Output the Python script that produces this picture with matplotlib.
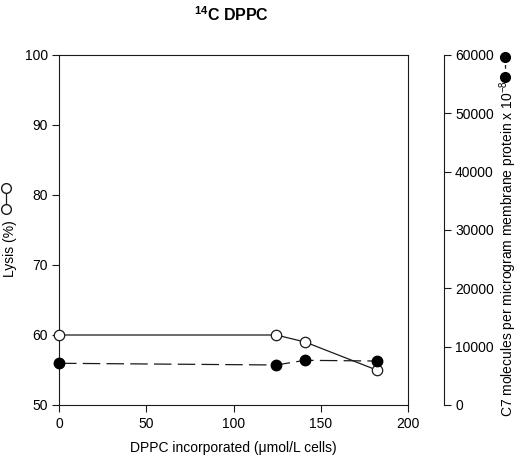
import matplotlib
matplotlib.use("Agg")
import matplotlib.pyplot as plt
from matplotlib.lines import Line2D

plt.rcParams['font.family'] = ['Liberation Sans', 'DejaVu Sans']
plt.rcParams['mathtext.fontset'] = 'custom'
plt.rcParams['mathtext.rm'] = 'Liberation Sans'
plt.rcParams['mathtext.it'] = 'Liberation Sans'
plt.rcParams['mathtext.bf'] = 'Liberation Sans:bold'

dppc = [0, 124.5, 141, 182]
lysis = [60.0, 60.0, 59.0, 55.0]
c7 = [7150, 6860, 7660, 7540]

xticks = [0, 50, 100, 150, 200]
lticks = [50, 60, 70, 80, 90, 100]
rticks = [0, 10000, 20000, 30000, 40000, 50000, 60000]

W, H = 520, 459
fig = plt.figure(figsize=(5.2, 4.59), dpi=100)
ax = fig.add_axes([59 / W, 1 - 405 / H, (408 - 59) / W, (405 - 55) / H])
ax2 = ax.twinx()

ax.set_xlim(0, 200)
ax.set_ylim(50, 100)
ax2.set_ylim(0, 60000)
ax.set_xticks(xticks)
ax.set_yticks(lticks)
ax2.set_yticks(rticks)

col = '#1a1a1a'
ax.plot(dppc, lysis, '-', color=col, lw=0.9, marker='o', ms=7.5,
        mfc='white', mec=col, mew=0.9, zorder=5, clip_on=False)
ax2.plot(dppc, c7, color=col, lw=0.9, ls=(0, (14, 5)), marker='o', ms=7.5,
         mfc='black', mec='black', zorder=5, clip_on=False)

for a in (ax, ax2):
    for s in a.spines.values():
        s.set_color(col)
        s.set_linewidth(0.8)
ax2.spines['right'].set_position(('outward', 36 * 0.72))
ax2.spines['top'].set_visible(False)
ax2.spines['left'].set_visible(False)
ax2.spines['bottom'].set_visible(False)

ax.tick_params(direction='out', length=5, width=0.8, labelsize=10, color=col, pad=3)
ax.tick_params(axis='x', pad=4)
ax2.tick_params(direction='out', length=5, width=0.8, labelsize=10, color=col, pad=3)

ax.set_xlabel('DPPC incorporated (\u03bcmol/L cells)', fontsize=10, labelpad=7)
fig.text(232 / W, 1 - 15 / H, r'$^{\mathbf{14}}$C DPPC', fontsize=11.5,
         fontweight='bold', ha='center', va='center')

# left label with legend symbol
fig.text(10 / W, 1 - 249 / H, 'Lysis (%)', rotation=90, fontsize=10,
         ha='center', va='center')
fig.add_artist(Line2D([6 / W, 6 / W], [1 - 188 / H, 1 - 209 / H], color=col,
                      lw=0.9, marker='o', ms=7, mfc='white', mec=col,
                      transform=fig.transFigure))

# right label with legend symbol
fig.text(508 / W, 1 - 249 / H,
         'C7 molecules per microgram membrane protein x 10$^{-8}$',
         rotation=90, fontsize=10, ha='center', va='center')
fig.add_artist(Line2D([505 / W, 505 / W], [1 - 57 / H, 1 - 77 / H], color=col,
                      lw=0.9, ls=(0, (3, 3)), marker='o', ms=7, mfc='black',
                      mec='black', transform=fig.transFigure))

fig.savefig('out.png', dpi=100)
